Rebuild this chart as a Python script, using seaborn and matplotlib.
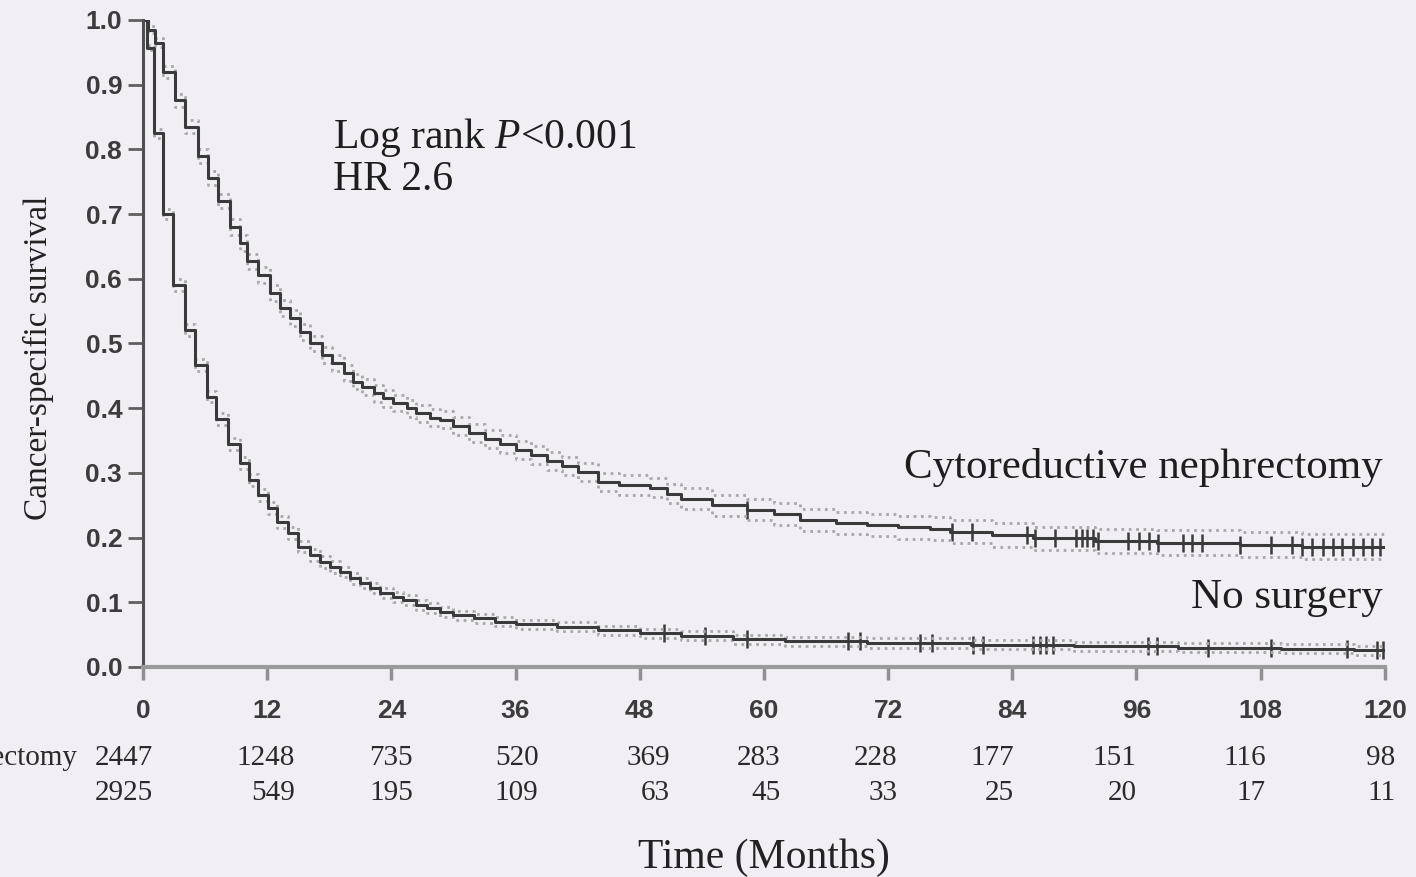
import numpy as np
import pandas as pd
import matplotlib
matplotlib.use('Agg')
import matplotlib.pyplot as plt
import seaborn as sns

# ---- data ----
# cytoreductive nephrectomy: step times (months) and survival after each step
neph_t = [0, 0.5, 1.2, 1.9, 3.1, 4.1, 5.3, 6.3, 7.2, 8.4,
          9.4, 10.0, 11.1, 12.3, 13.2, 14.2, 15.2, 16.1, 17.3, 18.3,
          19.4, 20.3, 21.2, 22.3, 23.2, 24.2, 25.5, 26.4, 27.7, 28.7,
          30, 31.5, 33, 34.5, 36, 37.5, 39, 40.5, 42, 44,
          46, 49, 50.6, 52, 55, 58.4, 61, 63.5, 67, 70,
          73, 76, 78, 82, 86, 92, 98, 106, 112, 120]
neph_s = [1.0, 0.985, 0.965, 0.92, 0.876, 0.835, 0.79, 0.756, 0.72, 0.68,
          0.655, 0.627, 0.606, 0.578, 0.555, 0.539, 0.518, 0.5, 0.482, 0.47,
          0.454, 0.441, 0.433, 0.423, 0.415, 0.408, 0.4, 0.392, 0.385, 0.382,
          0.372, 0.362, 0.353, 0.344, 0.335, 0.327, 0.318, 0.31, 0.302, 0.286,
          0.281, 0.277, 0.268, 0.26, 0.25, 0.243, 0.236, 0.227, 0.222, 0.219,
          0.216, 0.214, 0.209, 0.204, 0.199, 0.195, 0.192, 0.189, 0.186, 0.186]
neph_ci = [0, 0.005, 0.007, 0.009, 0.01, 0.01, 0.011, 0.011, 0.011, 0.012,
           0.012, 0.012, 0.012, 0.012, 0.012, 0.012, 0.012, 0.012, 0.012, 0.012,
           0.012, 0.012, 0.012, 0.013, 0.013, 0.013, 0.013, 0.013, 0.013, 0.013,
           0.014, 0.014, 0.014, 0.014, 0.014, 0.014, 0.014, 0.014, 0.014, 0.014,
           0.015, 0.015, 0.015, 0.016, 0.016, 0.016, 0.017, 0.017, 0.017, 0.017,
           0.018, 0.018, 0.018, 0.018, 0.018, 0.019, 0.019, 0.019, 0.019, 0.019]
neph_cens = [58.4, 78.2, 80.1, 85.4, 86.2, 88.1, 90.2, 90.7, 91.2, 91.8, 92.3,
             95.2, 96.2, 97.2, 98.1, 100.5, 101.4, 102.3, 106, 109, 111, 112,
             113, 114, 115, 115.9, 116.9, 117.9, 118.8, 119.5]

# no surgery
nos_t = [0, 0.4, 1.1, 1.9, 2.9, 4.06, 5.0, 6.15, 7.1, 8.2,
         9.4, 10.2, 11.1, 12.1, 12.9, 14.0, 15.0, 16.1, 17.1, 18.1,
         19.0, 20.0, 21.0, 21.9, 22.9, 24.2, 25.1, 26.4, 27.4, 28.7,
         30, 32, 34, 36, 40, 44, 48, 52, 57, 62,
         70, 80, 90, 100, 110, 117, 120]
nos_s = [1.0, 0.957, 0.825, 0.70, 0.59, 0.521, 0.467, 0.418, 0.383, 0.345,
         0.315, 0.289, 0.266, 0.246, 0.224, 0.207, 0.186, 0.173, 0.162, 0.155,
         0.147, 0.137, 0.13, 0.122, 0.114, 0.108, 0.103, 0.096, 0.091, 0.085,
         0.08, 0.075, 0.07, 0.066, 0.062, 0.057, 0.052, 0.048, 0.043, 0.04,
         0.037, 0.034, 0.032, 0.03, 0.028, 0.026, 0.026]
nos_ci = [0, 0.004, 0.007, 0.008, 0.009, 0.009, 0.009, 0.009, 0.009, 0.009,
          0.009, 0.009, 0.009, 0.009, 0.009, 0.009, 0.009, 0.009, 0.009, 0.009,
          0.008, 0.008, 0.008, 0.008, 0.008, 0.008, 0.008, 0.008, 0.008, 0.008,
          0.007, 0.007, 0.007, 0.007, 0.007, 0.007, 0.007, 0.007, 0.007, 0.007,
          0.007, 0.007, 0.007, 0.007, 0.007, 0.007, 0.007]
nos_cens = [50.3, 54.3, 58.4, 68.1, 69.3, 75.1, 76.2, 80.2, 81.2, 86, 86.7,
            87.3, 87.9, 97.1, 98, 102.9, 109, 116.3, 119.2, 119.8]

groups = ['Cytoreductive nephrectomy', 'No surgery']
risk_times = [0, 12, 24, 36, 48, 60, 72, 84, 96, 108, 120]
risk_neph = [2447, 1248, 735, 520, 369, 283, 228, 177, 151, 116, 98]
risk_nos = [2925, 549, 195, 109, 63, 45, 33, 25, 20, 17, 11]

# ---- style ----
bg = '#f1eff4'
sns.set_style('ticks')
plt.rcParams['font.family'] = ['Liberation Serif', 'DejaVu Serif']
plt.rcParams['mathtext.fontset'] = 'custom'
plt.rcParams['mathtext.rm'] = 'Liberation Serif'
plt.rcParams['mathtext.it'] = 'Liberation Serif:italic'
plt.rcParams['figure.facecolor'] = bg
plt.rcParams['axes.facecolor'] = bg

df = pd.concat([
    pd.DataFrame({'time': neph_t, 'surv': neph_s, 'ci': neph_ci, 'group': groups[0]}),
    pd.DataFrame({'time': nos_t, 'surv': nos_s, 'ci': nos_ci, 'group': groups[1]}),
], ignore_index=True)
df['lo'] = df.surv - df.ci
df['hi'] = df.surv + df.ci

fig = plt.figure(figsize=(14.16, 8.77), dpi=100)
ax = fig.add_axes([0.101, 0.2395, 0.877, 0.7377])

pal = {groups[0]: '#3a3a3a', groups[1]: '#3a3a3a'}
for col in ['lo', 'hi']:
    sns.lineplot(data=df, x='time', y=col, hue='group', palette={g: '#a8a8a8' for g in groups},
                 estimator=None, drawstyle='steps-post', linestyle=':', linewidth=2,
                 legend=False, ax=ax)
sns.lineplot(data=df, x='time', y='surv', hue='group', palette=pal, estimator=None,
             drawstyle='steps-post', linewidth=2.2, legend=False, ax=ax)

# censor marks on the curves
cens = []
for g, tt, ss, cc in [(groups[0], neph_t, neph_s, neph_cens), (groups[1], nos_t, nos_s, nos_cens)]:
    idx = np.searchsorted(tt, cc, side='right') - 1
    cens.append(pd.DataFrame({'time': cc, 'surv': np.array(ss)[idx], 'group': g}))
cens = pd.concat(cens, ignore_index=True)
sns.scatterplot(data=cens, x='time', y='surv', marker='|', s=160, linewidth=1.8,
                color='#3a3a3a', ax=ax, legend=False)

ax.set_xlim(0, 120)
ax.set_ylim(0, 1.0)
ax.set_xticks(risk_times)
ax.set_yticks(np.arange(0, 1.01, 0.1))
ax.set_yticklabels([f'{v:.1f}' for v in np.arange(0, 1.01, 0.1)])
sns.despine(ax=ax)
ax.spines['left'].set_color('#505050')
ax.spines['left'].set_linewidth(2.2)
ax.spines['bottom'].set_color('#9a9a9a')
ax.spines['bottom'].set_linewidth(3)
ax.tick_params(axis='y', direction='out', length=11, width=2, color='#606060', pad=4)
ax.tick_params(axis='x', direction='out', length=9, width=2.5, color='#909090', pad=14)
for lab in ax.get_xticklabels() + ax.get_yticklabels():
    lab.set_family(['Liberation Sans', 'DejaVu Sans'])
    lab.set_fontweight('bold')
    lab.set_fontsize(19)
    lab.set_color('#3c3c3c')

ax.set_xlabel('Time (Months)', fontsize=30, color='#222222', va='center')
ax.xaxis.set_label_coords(0.5, -0.295)
ax.set_ylabel('Cancer-specific survival', fontsize=24, color='#222222', va='center')
ax.yaxis.set_label_coords(-0.0845, 0.478)

ax.text(18.4, 0.802, 'Log rank $\\mathit{P}$<0.001', fontsize=30, color='#1e1e1e', va='baseline')
ax.text(18.4, 0.737, 'HR 2.6', fontsize=30, color='#1e1e1e', va='baseline')
ax.text(119.8, 0.292, groups[0], fontsize=31, color='#1e1e1e', ha='right', va='baseline')
ax.text(119.8, 0.091, groups[1], fontsize=31, color='#1e1e1e', ha='right', va='baseline')

# numbers at risk (right aligned, small nudges to match the reference)
nudge = [1.0, 2.7, 2.1, 2.2, 2.9, 1.6, 0.9, 0.2, 0.0, 0.5, 1.0]
for t, a, b, n in zip(risk_times, risk_neph, risk_nos, nudge):
    ax.text(t + n, -0.1406, str(a), fontsize=21, ha='right', va='center',
            color='#2a2a2a', clip_on=False)
    ax.text(t + n, -0.1947, str(b), fontsize=21, ha='right', va='center',
            color='#2a2a2a', clip_on=False)
# row label runs off the left edge, as in the reference
ax.text(-6.4, -0.1406, groups[0], fontsize=21, ha='right', va='center',
        color='#2a2a2a', clip_on=False)

fig.savefig('out.png', dpi=100, facecolor=bg)
